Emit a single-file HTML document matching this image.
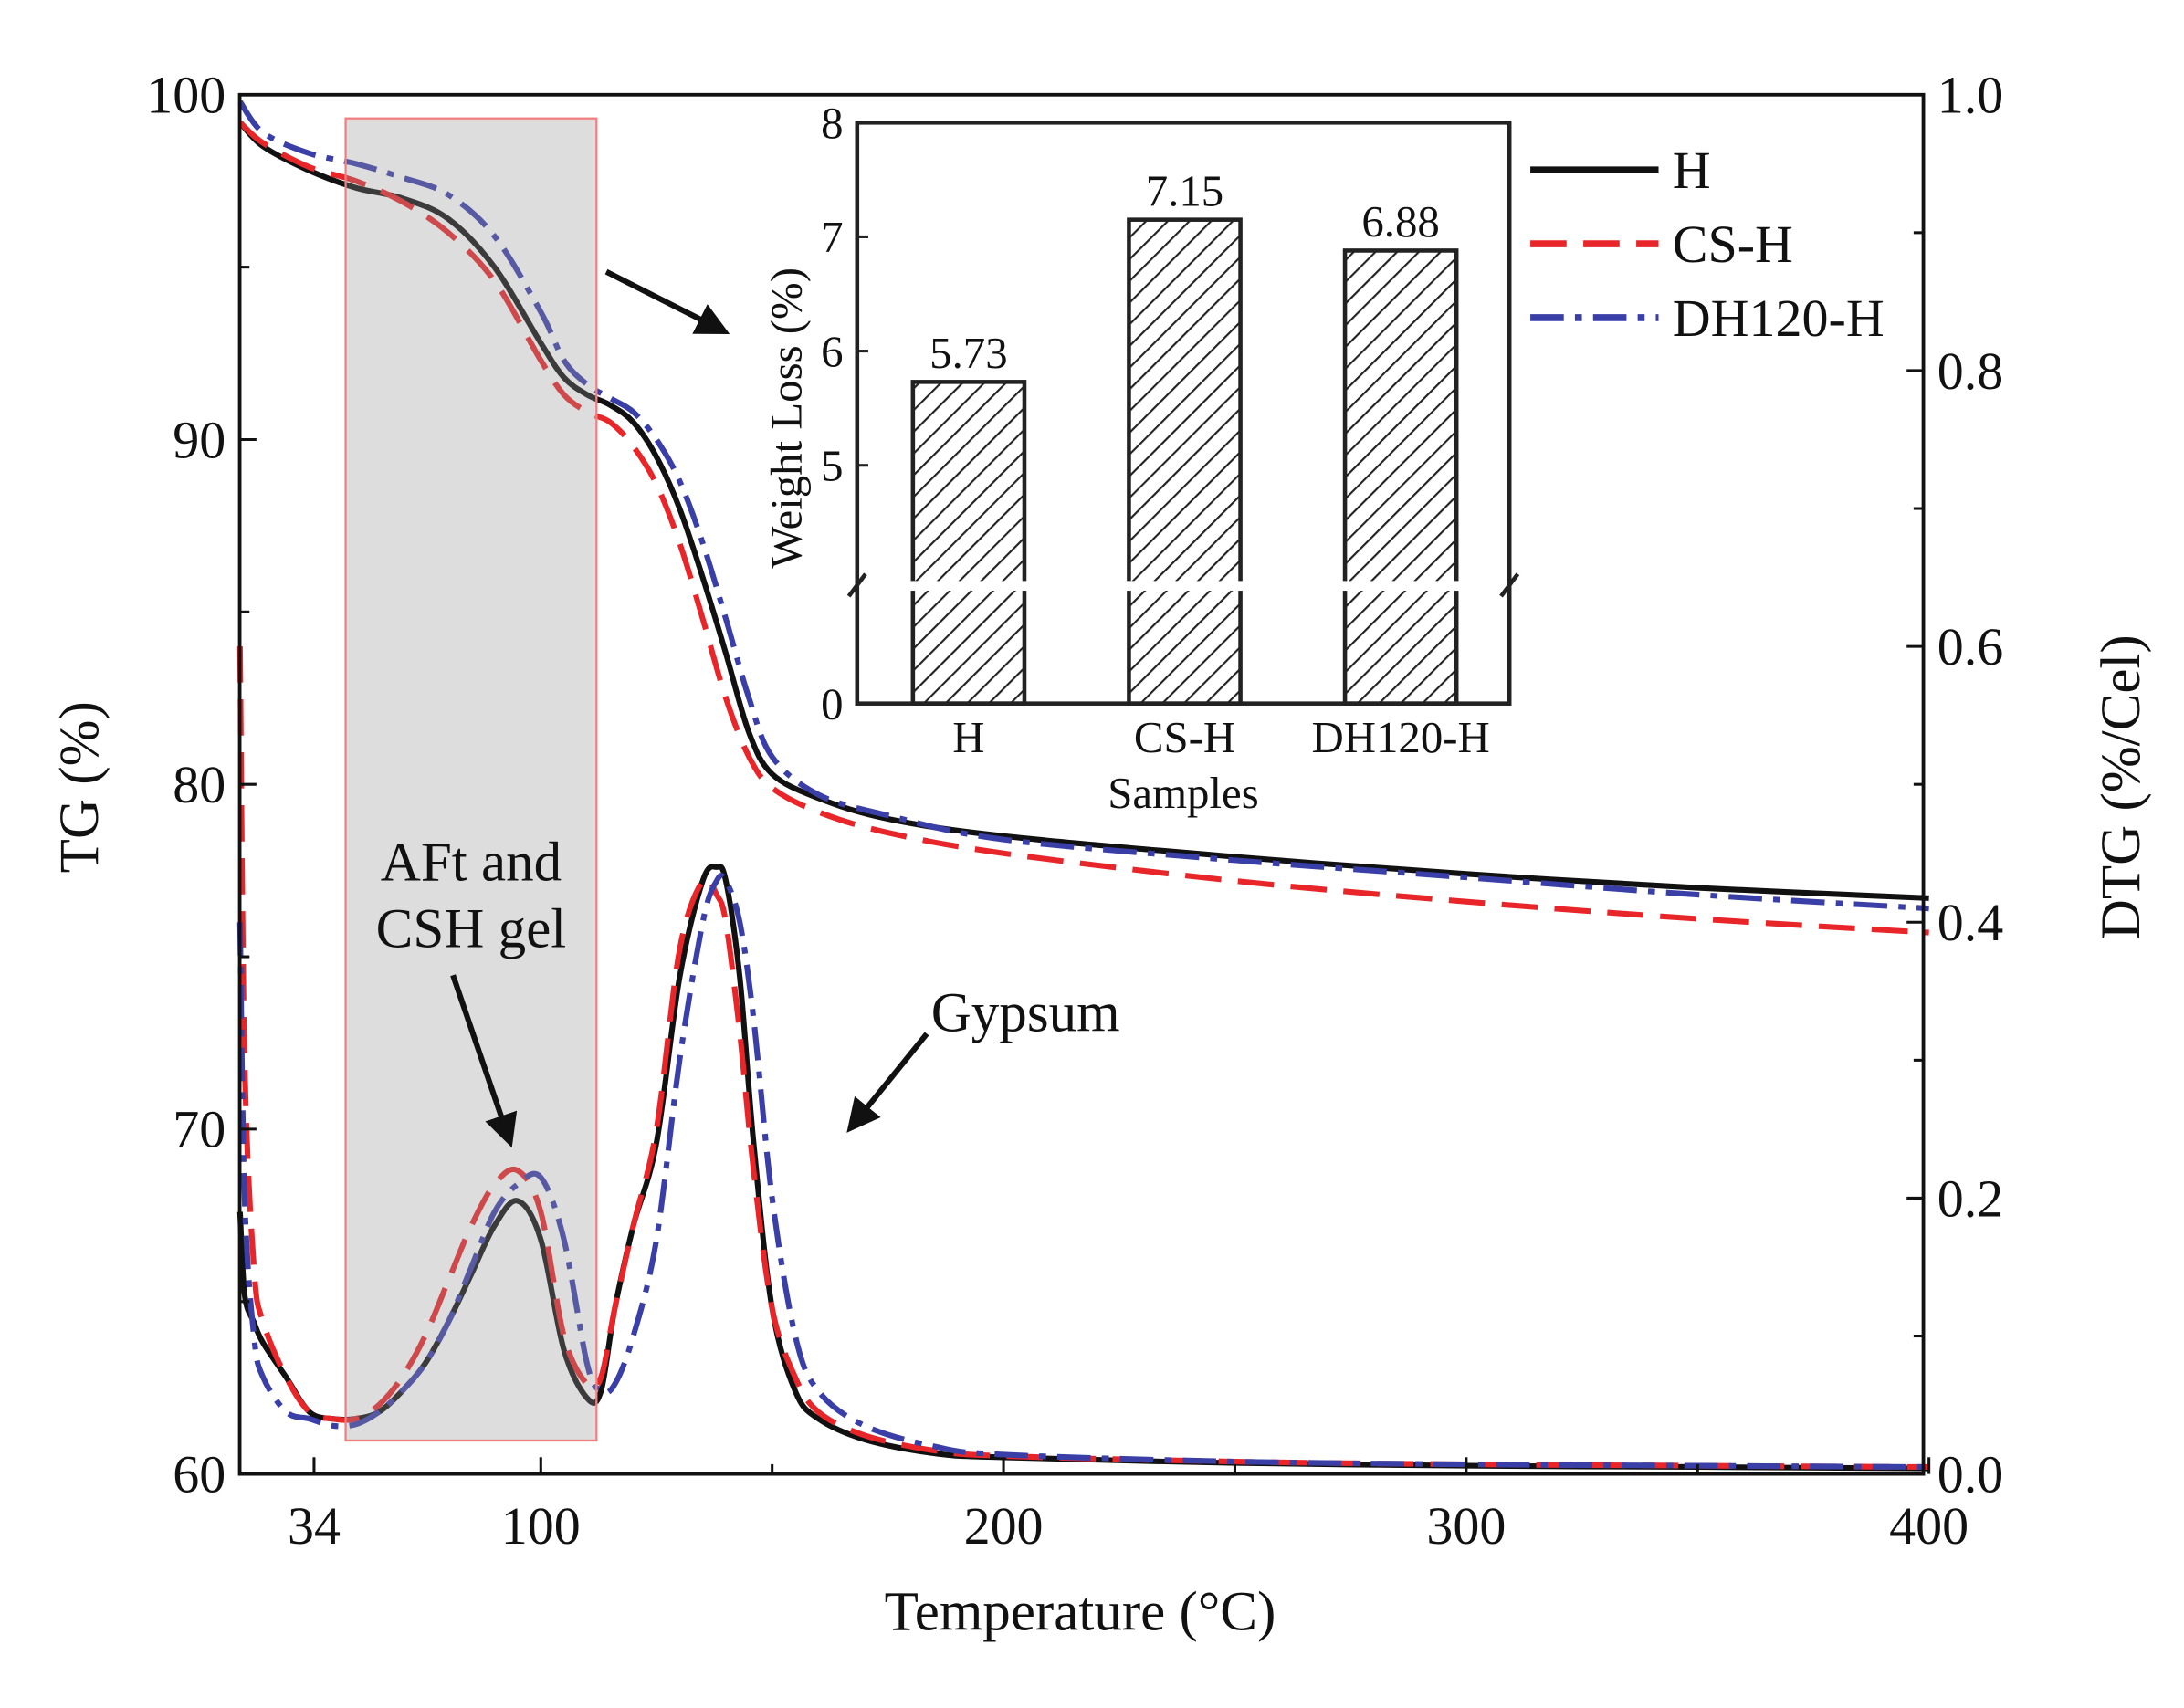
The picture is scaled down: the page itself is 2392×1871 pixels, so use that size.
<!DOCTYPE html>
<html><head><meta charset="utf-8"><style>
html,body{margin:0;padding:0;background:#fff;}
svg{display:block;}
text{font-family:"Liberation Serif",serif;fill:#111;}
</style></head><body>
<svg id="chart" width="2392" height="1871" viewBox="0 0 1567 1226" preserveAspectRatio="none" xmlns="http://www.w3.org/2000/svg">
<defs>
<pattern id="hatch" patternUnits="userSpaceOnUse" width="11" height="11" patternTransform="rotate(45)">
<line x1="0" y1="0" x2="0" y2="11" stroke="#222" stroke-width="2.8"/>
</pattern>
<marker id="arr" markerWidth="6" markerHeight="6" refX="5" refY="3" orient="auto"><path d="M0,0 L6,3 L0,6 Z" fill="#111"/></marker>
</defs>
<g id="main"></g>
</svg>
<script>
// ---- data ----
const temps = [35,40,50,60,70,80,90,100,105,110,115,120,125,130,135,140,145,150,160,175,200,250,300,350,400];
const tgH   = [99.2,98.5,97.8,97.3,97.0,96.4,95.0,92.8,91.8,91.3,91.0,90.5,89.5,88.0,86.0,83.8,81.5,80.3,79.6,79.0,78.5,77.9,77.4,77.0,76.7];
const tgCS  = [99.2,98.6,97.9,97.5,96.9,96.0,94.6,92.3,91.3,90.8,90.5,89.8,88.7,87.0,84.8,82.5,80.8,79.9,79.2,78.6,78.0,77.2,76.6,76.1,75.7];
const tgDH  = [99.8,98.9,98.3,98.0,97.6,97.1,95.9,93.7,92.3,91.6,91.2,90.8,90.0,88.8,87.0,84.8,82.5,80.8,79.7,79.1,78.4,77.8,77.3,76.8,76.4];
const dtgTemps = [35,36,38,40,45,50,55,60,65,70,75,80,85,90,95,100,105,110,113,116,120,125,130,135,138,140,143,146,150,155,160,170,185,200,250,300,350,400];
const dtgH  = [.19,.13,.11,.095,.07,.045,.04,.04,.045,.06,.08,.11,.145,.18,.198,.17,.09,.055,.06,.12,.18,.24,.36,.43,.44,.43,.36,.24,.12,.06,.04,.025,.015,.012,.008,.006,.005,.004];
const dtgCS = [.6,.3,.15,.11,.07,.045,.04,.04,.05,.07,.1,.14,.18,.21,.22,.19,.1,.065,.07,.12,.18,.25,.38,.43,.42,.40,.32,.22,.12,.07,.045,.028,.017,.013,.009,.007,.006,.005];
const dtgDH = [.4,.2,.1,.07,.045,.04,.035,.036,.045,.06,.08,.11,.15,.19,.21,.215,.17,.08,.06,.065,.1,.17,.3,.40,.43,.43,.40,.33,.2,.1,.06,.035,.02,.014,.009,.007,.006,.005];
const xTickVals = [51,100,200,300,400];
const xTickLabels = ['34','100','200','300','400'];
const yTickVals = [60,70,80,90,100];
const y2TickVals = [0.0,0.2,0.4,0.6,0.8,1.0];
const barCats = ['H','CS-H','DH120-H'];
const barVals = [5.73,7.15,6.88];
const barTicks = [0,5,6,7,8];

// ---- axes ----
const L=172,R=1380,T=68,B=1058;
const xs = t => 388 + (t-100)*3.32;
const ys = v => B - (v-60)/40*(B-T);
const ys2 = v => B - v*(B-T);
const NS='http://www.w3.org/2000/svg';
const g=document.getElementById('main');
function el(tag,attrs,parent){const e=document.createElementNS(NS,tag);for(const k in attrs)e.setAttribute(k,attrs[k]);(parent||g).appendChild(e);return e;}
function txt(s,attrs,parent){const e=el('text',attrs,parent);e.textContent=s;return e;}
function smooth(pts){let d='M'+pts[0][0]+','+pts[0][1];for(let i=0;i<pts.length-1;i++){const p0=pts[Math.max(0,i-1)],p1=pts[i],p2=pts[i+1],p3=pts[Math.min(pts.length-1,i+2)];const c1=[p1[0]+(p2[0]-p0[0])/6,p1[1]+(p2[1]-p0[1])/6],c2=[p2[0]-(p3[0]-p1[0])/6,p2[1]-(p3[1]-p1[1])/6];d+=' C'+c1[0].toFixed(1)+','+c1[1].toFixed(1)+' '+c2[0].toFixed(1)+','+c2[1].toFixed(1)+' '+p2[0].toFixed(1)+','+p2[1].toFixed(1);}return d;}

const series=[
 {name:'H',tg:tgH,dtg:dtgH,color:'#111',dash:''},
 {name:'CS-H',tg:tgCS,dtg:dtgCS,color:'#e8262a',dash:'26,12'},
 {name:'DH120-H',tg:tgDH,dtg:dtgDH,color:'#3a3fa8',dash:'24,8,5,8'}];
series.forEach(s=>{
 const p1=el('path',{d:smooth(temps.map((t,i)=>[xs(t),ys(s.tg[i])])),fill:'none',stroke:s.color,'stroke-width':4,'stroke-dasharray':s.dash});
 
 
 const p2=el('path',{d:smooth(dtgTemps.map((t,i)=>[xs(t),ys2(s.dtg[i])])),fill:'none',stroke:s.color,'stroke-width':4,'stroke-dasharray':s.dash});
 
 
});
// highlight box
const hb=el('rect',{x:248,y:85,width:180,height:949,fill:'rgba(150,150,150,0.32)',stroke:'#f08080','stroke-width':1.5});


// frame
const fr=el('rect',{x:L,y:T,width:R-L,height:B-T,fill:'none',stroke:'#111','stroke-width':2.5});


// x ticks
xTickVals.forEach((v,i)=>{el('line',{x1:xs(v),x2:xs(v),y1:B,y2:B-12,stroke:'#111','stroke-width':2});
 const t=txt(xTickLabels[i],{x:xs(v),y:B+50,'text-anchor':'middle','font-size':38});
 
 });
[150,250,350].forEach(v=>el('line',{x1:xs(v),x2:xs(v),y1:B,y2:B-7,stroke:'#111','stroke-width':2}));
yTickVals.forEach(v=>{el('line',{x1:L,x2:L+12,y1:ys(v),y2:ys(v),stroke:'#111','stroke-width':2});
 const t=txt(String(v),{x:L-10,y:ys(v)+13,'text-anchor':'end','font-size':38});
 
 });
[65,75,85,95].forEach(v=>el('line',{x1:L,x2:L+7,y1:ys(v),y2:ys(v),stroke:'#111','stroke-width':2}));
y2TickVals.forEach(v=>{el('line',{x1:R,x2:R-12,y1:ys2(v),y2:ys2(v),stroke:'#111','stroke-width':2});
 const t=txt(v.toFixed(1),{x:R+10,y:ys2(v)+13,'text-anchor':'start','font-size':38});
 
 });
[0.1,0.3,0.5,0.7,0.9].forEach(v=>el('line',{x1:R,x2:R-7,y1:ys2(v),y2:ys2(v),stroke:'#111','stroke-width':2}));
// axis titles
let a=txt('Temperature (°C)',{x:775,y:1170,'text-anchor':'middle','font-size':40});
a=txt('TG (%)',{x:0,y:0,'text-anchor':'middle','font-size':40,transform:'translate(70,565) rotate(-90)'});
a=txt('DTG (%/Cel)',{x:0,y:0,'text-anchor':'middle','font-size':40,transform:'translate(1535,565) rotate(-90)'});
// legend
series.forEach((s,i)=>{const y=122+i*53;
 const ln=el('line',{x1:1098,x2:1190,y1:y,y2:y,stroke:s.color,'stroke-width':5,'stroke-dasharray':s.dash});
 
 
 const t=txt(s.name,{x:1200,y:y+13,'font-size':38});
 
 });
// annotations
a=txt('AFt and',{x:338,y:632,'text-anchor':'middle','font-size':40});
a=txt('CSH gel',{x:338,y:680,'text-anchor':'middle','font-size':40});
a=txt('Gypsum',{x:668,y:740,'font-size':40});
[[325,700,366,820],[665,742,610,810],[435,195,520,238]].forEach(c=>{const l=el('line',{x1:c[0],y1:c[1],x2:c[2],y2:c[3],stroke:'#111','stroke-width':4,'marker-end':'url(#arr)'});
 
 });
// ---- inset ----
const IL=615,IR=1083,IT=88,IB=505;
const iy = v => v>=4 ? IT+(8-v)*82 : IB-(v/4)*(IB-416);
const inset=el('g',{});


el('rect',{x:IL,y:IT,width:IR-IL,height:IB-IT,fill:'#fff',stroke:'none'},inset);
const barX=[655,810,965];
barVals.forEach((v,i)=>{const r=el('rect',{x:barX[i],y:iy(v),width:80,height:IB-iy(v),fill:'url(#hatch)',stroke:'#222','stroke-width':3},inset);
 
 
 const t=txt(v.toFixed(2),{x:barX[i]+40,y:iy(v)-10,'text-anchor':'middle','font-size':32},inset);
 
 
 const c=txt(barCats[i],{x:barX[i]+40,y:IB+35,'text-anchor':'middle','font-size':32},inset);
 
 });
el('rect',{x:IL,y:IT,width:IR-IL,height:IB-IT,fill:'none',stroke:'#222','stroke-width':3},inset);
el('rect',{x:IL+3,y:417,width:IR-IL-6,height:7,fill:'#fff'},inset);
el('line',{x1:IL-6,y1:428,x2:IL+6,y2:412,stroke:'#222','stroke-width':3},inset);
el('line',{x1:IR-6,y1:428,x2:IR+6,y2:412,stroke:'#222','stroke-width':3},inset);
barTicks.forEach(v=>{el('line',{x1:IL,x2:IL+8,y1:iy(v),y2:iy(v),stroke:'#222','stroke-width':2},inset);
 const t=txt(String(v),{x:IL-10,y:iy(v)+11,'text-anchor':'end','font-size':32},inset);
 
 });
a=txt('Samples',{x:849,y:580,'text-anchor':'middle','font-size':32},inset);
a=txt('Weight Loss (%)',{x:0,y:0,'text-anchor':'middle','font-size':32,transform:'translate(575,300) rotate(-90)'},inset);
</script>
</body></html>
